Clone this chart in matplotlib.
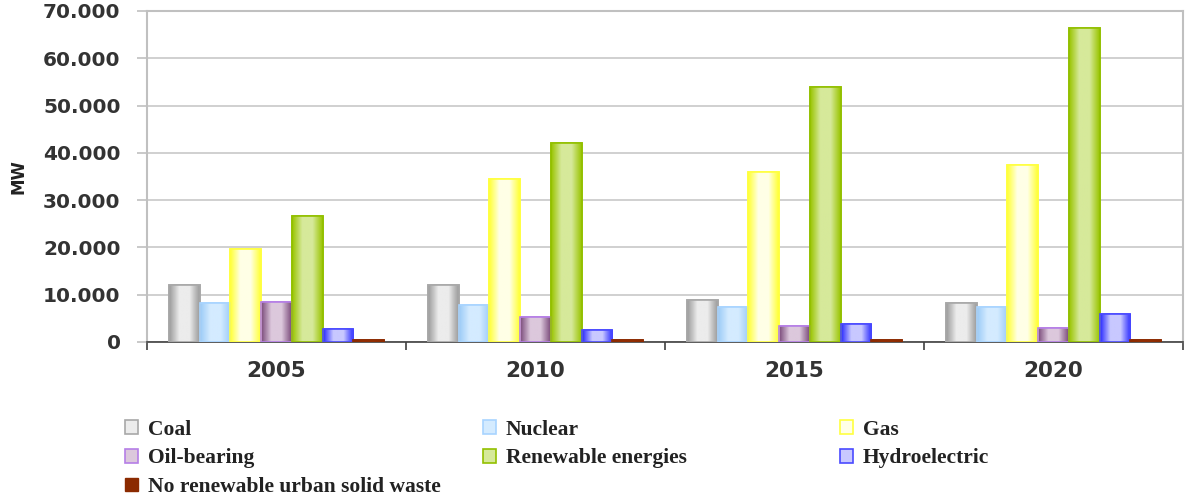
import numpy as np
import matplotlib
matplotlib.use("Agg")
import matplotlib.pyplot as plt
from matplotlib.patches import Patch
from matplotlib.colors import LinearSegmentedColormap
from matplotlib.ticker import FuncFormatter, MultipleLocator

years = ["2005", "2010", "2015", "2020"]
series = ["Coal", "Nuclear", "Gas", "Oil-bearing", "Renewable energies",
          "Hydroelectric", "No renewable urban solid waste"]
coal = [12000, 12000, 8800, 8200]
nuclear = [8200, 7800, 7400, 7400]
gas = [19700, 34500, 36000, 37500]
oil = [8400, 5300, 3400, 3000]
renewable = [26600, 42000, 54000, 66500]
hydro = [2700, 2600, 3700, 6000]
waste = [500, 500, 500, 500]
values = [coal, nuclear, gas, oil, renewable, hydro, waste]

# (dark, light) colours for gradient
colors = [("#9a9a9a", "#ececec"),
          ("#9ccbf7", "#d4ebff"),
          ("#ffff33", "#ffffe6"),
          ("#7a4a7a", "#dcc8dc"),
          ("#99c400", "#d6e99a"),
          ("#2a2aff", "#c8c8ff"),
          ("#8b2a00", "#b04010")]
edgecols = ["#a8a8a8", "#a8d4ff", "#ffff40", "#b57ee6", "#92c000", "#4a4aff", "#8b2a00"]

fig = plt.figure(figsize=(11.91, 4.98), dpi=100)
ax = fig.add_axes([0.1234, 0.3133, 0.8699, 0.6647])

x = np.arange(len(years))
w = 0.1186
n = len(series)
for i, (vals, (dk, lt), ec) in enumerate(zip(values, colors, edgecols)):
    cmap = LinearSegmentedColormap.from_list("g%d" % i, [dk, lt, lt, dk])
    grad = np.linspace(0, 1, 64).reshape(1, -1)
    offs = (i - (n - 1) / 2) * w
    bars = ax.bar(x + offs, vals, width=w, facecolor=lt, edgecolor=ec,
                  linewidth=1.2, zorder=3)
    for b in bars:
        im = ax.imshow(grad, cmap=cmap, aspect="auto", zorder=3.5,
                       extent=[b.get_x(), b.get_x() + b.get_width(), 0, b.get_height()])
        im.set_clip_path(b)
    ax.bar(x + offs, vals, width=w, facecolor="none", edgecolor=ec,
           linewidth=1.2, zorder=4)

ax.set_xlim(-0.5, len(years) - 0.5)
ax.set_ylim(0, 70000)
ax.yaxis.set_major_locator(MultipleLocator(10000))
ax.yaxis.set_major_formatter(FuncFormatter(lambda v, p: f"{int(v):,}".replace(",", ".")))
ax.grid(axis="y", color="#c8c8c8", linewidth=1.2, zorder=0)
ax.set_axisbelow(True)

for s in ["left", "right", "top"]:
    ax.spines[s].set_color("#c0c0c0")
    ax.spines[s].set_linewidth(1.5)
ax.spines["bottom"].set_color("#404040")
ax.spines["bottom"].set_linewidth(1.2)

ax.set_xticks(x)
ax.set_xticklabels(years, fontsize=15.5, fontweight="bold", color="#333333")
ax.tick_params(axis="x", length=0, pad=14)
ax.set_xticks(np.arange(len(years) + 1) - 0.5, minor=True)
ax.tick_params(axis="x", which="minor", length=6, color="#404040", width=1.2)
ax.tick_params(axis="y", length=7, color="#c0c0c0", width=1.2, labelsize=14.5,
               labelcolor="#333333", pad=12)
for t in ax.get_yticklabels():
    t.set_fontweight("bold")
ax.set_ylabel("MW", fontsize=12, fontweight="bold", color="#222222")
ax.yaxis.set_label_coords(-0.115, 0.5)

handles = [Patch(facecolor=lt, edgecolor=ec, linewidth=1.2)
           for (dk, lt), ec in zip(colors, edgecols)]
handles[-1] = Patch(facecolor=colors[-1][0], edgecolor=edgecols[-1])

cols = [[0, 3, 6], [1, 4], [2, 5]]
anchors = [0.105, 0.4055, 0.705]
for idx, ax0 in zip(cols, anchors):
    leg = fig.legend([handles[k] for k in idx], [series[k] for k in idx],
                     loc="upper left", bbox_to_anchor=(ax0, 0.157),
                     ncol=1, frameon=False, handlelength=0.6,
                     handleheight=0.6, handletextpad=0.47, labelspacing=0.4,
                     borderaxespad=0, borderpad=0,
                     prop={"family": "Liberation Serif", "weight": "bold", "size": 15.5})
    for t in leg.get_texts():
        t.set_color("#222222")

fig.savefig("out.png", dpi=100)
